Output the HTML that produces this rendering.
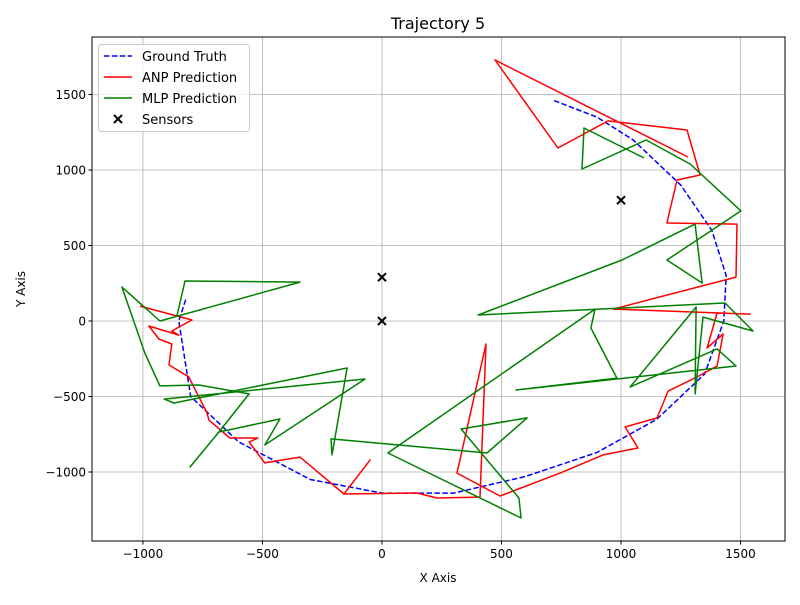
<!DOCTYPE html>
<html><head><meta charset="utf-8"><style>
body{margin:0;background:#fff}
svg text{font-family:"DejaVu Sans","Liberation Sans",sans-serif}
</style></head><body>
<svg id="chart" width="800" height="600" xmlns="http://www.w3.org/2000/svg">
<rect width="800" height="600" fill="#fff"/>
<g id="grid"></g>
<g id="series"></g>
<rect x="92" y="37" width="693" height="504" fill="none" stroke="#000" stroke-width="1"/>
<g id="ticks"></g>
<text x="438" y="29" font-size="16" text-anchor="middle">Trajectory 5</text>
<text x="438" y="582" font-size="12" text-anchor="middle">X Axis</text>
<text x="25" y="289" font-size="12" text-anchor="middle" transform="rotate(-90 25 289)">Y Axis</text>
<g>
<rect x="98.5" y="44.5" width="151" height="87" rx="3" fill="#fff" fill-opacity="0.8" stroke="#ccc"/>
<g><line x1="104" y1="56" x2="132" y2="56" stroke="#00f" stroke-width="1.5" stroke-dasharray="5.5,2.4"/><text x="142" y="61" font-size="13">Ground Truth</text></g>
<g><line x1="104" y1="77" x2="132" y2="77" stroke="#f00" stroke-width="1.5"/><text x="142" y="82" font-size="13">ANP Prediction</text></g>
<g><line x1="104" y1="98" x2="132" y2="98" stroke="#008000" stroke-width="1.5"/><text x="142" y="103" font-size="13">MLP Prediction</text></g>
<g><path d="M114,115 l8,8 M122,115 l-8,8" stroke="#000" stroke-width="2"/><text x="142" y="124" font-size="13">Sensors</text></g>
</g>
</svg>
<script>
const xTicks=[-1000,-500,0,500,1000,1500];
const yTicks=[-1000,-500,0,500,1000,1500];
const gtX=[720,900,1050,1250,1380,1440,1430,1350,1150,900,600,300,0,-300,-600,-800,-850,-820];
const gtY=[1460,1350,1200,900,600,300,0,-350,-650,-870,-1030,-1140,-1140,-1050,-800,-500,0,146];
const anpX=[-1012,-795,-879,-849,-975,-933,-879,-891,-808,-732,-724,-636,-519,-556,-490,-343,-159,-50,-159,146,230,410,435,314,494,745,925,1071,1017,1151,1197,1318,1402,1427,1360,1402,1540,967,1481,1485,1192,1234,1331,1276,946,736,473,1280];
const anpY=[99,7,-66,-93,-33,-119,-152,-291,-371,-609,-656,-775,-775,-801,-940,-901,-1146,-921,-1146,-1139,-1172,-1166,-152,-1007,-1159,-1007,-887,-841,-702,-642,-464,-371,-298,-86,-179,53,46,79,291,642,649,934,967,1265,1325,1146,1729,1086];
const mlpX=[-858,-824,-343,-929,-1088,-992,-929,-766,-556,-682,-803,-682,-427,-490,-71,-912,-870,-146,-209,-213,439,607,331,573,582,25,891,874,983,561,1481,1402,1038,1314,1310,1343,1552,1435,402,1004,1310,1339,1192,1502,1289,1105,837,845,1096];
const mlpY=[33,265,258,0,225,-212,-430,-424,-483,-735,-967,-735,-649,-821,-384,-517,-543,-311,-887,-781,-874,-642,-715,-1172,-1305,-874,79,-46,-378,-457,-298,-185,-437,93,-483,26,-66,119,40,404,642,252,404,729,1040,1199,1007,1278,1080];
const sensorX=[0,0,1000];
const sensorY=[0,290,800];

const NS='http://www.w3.org/2000/svg';
const X0=92,X1=785,Y0=37,Y1=541;
const xMin=-1213,xMax=1686,yMin=-1457,yMax=1881;
const sx=v=>X0+(v-xMin)/(xMax-xMin)*(X1-X0);
const sy=v=>Y1-(v-yMin)/(yMax-yMin)*(Y1-Y0);
function mk(tag,attrs,parent){const e=document.createElementNS(NS,tag);for(const k in attrs)e.setAttribute(k,attrs[k]);parent.appendChild(e);return e;}
const grid=document.getElementById('grid'),ticks=document.getElementById('ticks'),ser=document.getElementById('series');
xTicks.forEach(t=>{const x=sx(t);
 const g=mk('line',{x1:x,x2:x,y1:Y0,y2:Y1,stroke:'#b0b0b0','stroke-width':0.8},grid);
 
 
 mk('line',{x1:x,x2:x,y1:Y1,y2:Y1+3.5,stroke:'#000'},ticks);
 const tx=mk('text',{x:x,y:Y1+17,'font-size':12,'text-anchor':'middle'},ticks);tx.textContent=t<0?'\u2212'+(-t):t;
 
 });
yTicks.forEach(t=>{const y=sy(t);
 const g=mk('line',{x1:X0,x2:X1,y1:y,y2:y,stroke:'#b0b0b0','stroke-width':0.8},grid);
 
 
 mk('line',{x1:X0-3.5,x2:X0,y1:y,y2:y,stroke:'#000'},ticks);
 const tx=mk('text',{x:X0-6,y:y+4.5,'font-size':12,'text-anchor':'end'},ticks);tx.textContent=t<0?'\u2212'+(-t):t;
 
 });
function line(xs,ys,color,dash){const pts=xs.map((v,i)=>sx(v).toFixed(1)+','+sy(ys[i]).toFixed(1)).join(' ');
 const a={points:pts,fill:'none',stroke:color,'stroke-width':1.5,'stroke-linejoin':'round'};if(dash)a['stroke-dasharray']=dash;return mk('polyline',a,ser);}
const l1=line(gtX,gtY,'#00f','5.5,2.4');


const l2=line(anpX,anpY,'#f00');


const l3=line(mlpX,mlpY,'#008000');


sensorX.forEach((v,i)=>{const x=sx(v),y=sy(sensorY[i]);
 const p=mk('path',{d:`M${x-4},${y-4} l8,8 M${x+4},${y-4} l-8,8`,stroke:'#000','stroke-width':2},ser);
 
 });
</script>
</body></html>
